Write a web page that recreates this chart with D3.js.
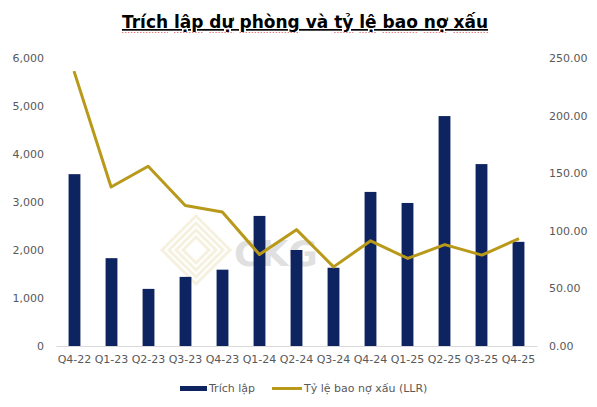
<!DOCTYPE html>
<html><head><meta charset="utf-8">
<script src="https://cdn.jsdelivr.net/npm/d3@7"></script>
<style>body{margin:0;background:#fff}svg{display:block}</style>
</head><body>
<script>
const categories = ["Q4-22","Q1-23","Q2-23","Q3-23","Q4-23","Q1-24","Q2-24","Q3-24","Q4-24","Q1-25","Q2-25","Q3-25","Q4-25"];
const trichLap = [3580,1830,1190,1440,1590,2710,2000,1630,3210,2980,4790,3790,2170];
const llr = [238.6,138,156,122,116.4,79.4,101,68.7,91.3,76,88,78.9,93.3];
const leftTicks = [0,1000,2000,3000,4000,5000,6000];
const rightTicks = [0,50,100,150,200,250];
const title = "Trích lập dự phòng và tỷ lệ bao nợ xấu";
const seriesNames = ["Trích lập","Tỷ lệ bao nợ xấu (LLR)"];

const W=597,H=407;
const navy="#0E2461", gold="#B8991A", grey="#595959";
const font="Tahoma, 'DejaVu Sans', 'Liberation Sans', sans-serif";
const svg=d3.select("body").append("svg").attr("width",W).attr("height",H);

const x=d3.scaleBand().domain(categories).range([56,537]).paddingInner(0.68).paddingOuter(0.34);
const xc=d3.scalePoint().domain(categories).range([74,519]);
const yL=d3.scaleLinear().domain([0,6000]).range([346,58]);
const yR=d3.scaleLinear().domain([0,250]).range([346,58]);

// watermark
const wm=svg.append("g").attr("opacity",0.35);
for(let i=0;i<4;i++){
  const s=34-i*7;
  wm.append("path").attr("d",`M${196-s},${250} L196,${250-s} L${196+s},${250} L196,${250+s} Z`)
    .attr("fill","none").attr("stroke","#E8D9A6").attr("stroke-width",3);
}
wm.append("text").attr("x",234).attr("y",266).text("CKG").attr("font-family","'DejaVu Sans', sans-serif")
  .attr("font-size",36).attr("font-weight","bold").attr("fill","#A9A9A9");

// title
const t=svg.append("text").attr("x",305).attr("y",28).attr("text-anchor","middle")
  .attr("font-family","'DejaVu Sans', sans-serif").attr("font-weight","bold").attr("font-size",17)
  .attr("fill","#000").attr("text-decoration","underline").text(title);
// spell-check style red dotted underline per word
try{
  const node=t.node(); const bb=node.getBBox();
  let idx=0;
  title.split(" ").forEach(w=>{
    const start=node.getSubStringLength(0,idx);
    const len=node.getSubStringLength(idx,w.length);
    if(w!=="và") svg.append("line").attr("x1",bb.x+start).attr("x2",bb.x+start+len)
      .attr("y1",32.5).attr("y2",32.5).attr("stroke","#E06060").attr("stroke-width",1)
      .attr("stroke-dasharray","1.5,1.5").attr("opacity",0.8);
    idx+=w.length+1;
  });
}catch(e){}

// axes
const axL=svg.append("g").attr("transform","translate(44,0)")
  .call(d3.axisLeft(yL).tickValues(leftTicks).tickSize(0).tickFormat(d3.format(",")));
const axR=svg.append("g").attr("transform","translate(549,0)")
  .call(d3.axisRight(yR).tickValues(rightTicks).tickSize(0).tickFormat(d3.format(".2f")));
const axX=svg.append("g").attr("transform","translate(0,346)")
  .call(d3.axisBottom(x).tickSize(0).tickPadding(9));
[axL,axR].forEach(a=>{a.select(".domain").remove();a.selectAll("text").attr("x",0);});
axX.select(".domain").attr("stroke","#D9D9D9");
svg.selectAll(".tick text").attr("font-family",font).attr("font-size",11).attr("fill",grey);

// bars
svg.append("g").selectAll("rect").data(trichLap).join("rect")
  .attr("x",(d,i)=>x(categories[i])).attr("width",x.bandwidth())
  .attr("y",d=>yL(d)).attr("height",d=>yL(0)-yL(d)).attr("fill",navy);

// line
svg.append("path").datum(llr)
  .attr("d",d3.line().x((d,i)=>xc(categories[i])).y(d=>yR(d)))
  .attr("fill","none").attr("stroke",gold).attr("stroke-width",3).attr("stroke-linejoin","round");

// legend
const lg=svg.append("g").attr("font-family",font).attr("font-size",11).attr("fill",grey);
lg.append("rect").attr("x",180).attr("y",386).attr("width",27).attr("height",5).attr("fill",navy);
lg.append("text").attr("x",209).attr("y",392).text(seriesNames[0]);
lg.append("line").attr("x1",272).attr("x2",302).attr("y1",388.5).attr("y2",388.5).attr("stroke",gold).attr("stroke-width",3);
lg.append("text").attr("x",304).attr("y",392).text(seriesNames[1]);
</script>
</body></html>
